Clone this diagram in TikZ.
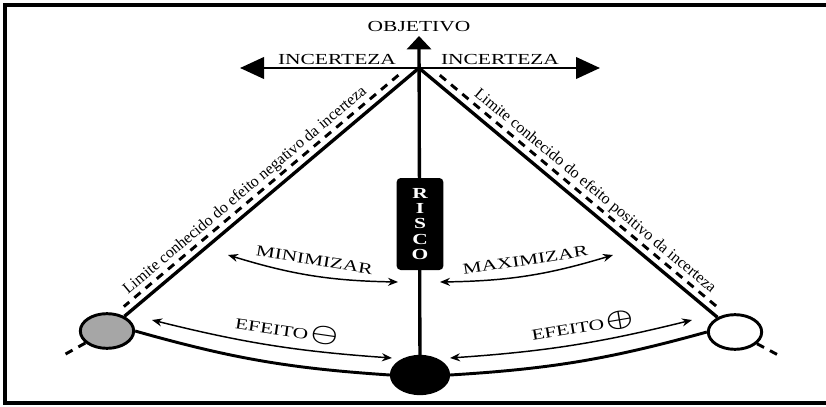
\documentclass[tikz,border=0pt]{standalone}
\usepackage{fontspec}
\setmainfont[FakeStretch=1.4]{Liberation Serif}
\newfontfamily\limitfont{Liberation Serif}
\usepackage{graphicx}
\usetikzlibrary{
    arrows.meta,
    positioning,
    calc,
    shapes.geometric
}

\begin{document}
\begin{tikzpicture}[
        x=0.75pt, y=-0.75pt,
        every node/.style={font=\fontsize{11.5pt}{13pt}\selectfont},
        axis/.style={
            line width=2.5pt,
            draw=black
        },
        outcome/.style={
            ellipse,
            draw=black,
            line width=2.2pt,
            minimum width=40pt,
            minimum height=26pt,
            inner sep=0pt
        },
        limit/.style={
            line width=2.2pt,
            dash pattern=on 6pt off 5pt
        },
        effect/.style={
            {Stealth[length=7.5pt,width=6pt]}-{Stealth[length=7.5pt,width=6pt]},
            line width=1.1pt
        },
        riskstack/.style={
            rectangle,
            rounded corners=3pt,
            fill=black,
            text=white,
            minimum width=35pt,
            minimum height=69pt,
            align=center,
            font=\bfseries\fontsize{11.5pt}{11.6pt}\selectfont
        },
        limitlabel/.style={
            font=\limitfont\fontsize{12pt}{14pt}\selectfont,
            sloped,
            inner sep=1pt
        }
    ]

    \useasboundingbox (0,0) rectangle (826,407);
    \draw[line width=2.4pt] (834,5) -| (5,403) -- (834,403);

    \coordinate (apex) at (419,68);
    \coordinate (goal) at (419,36);
    \coordinate (uncleft) at (240,68);
    \coordinate (uncright) at (600,68);
    \coordinate (negtail) at (62,356);
    \coordinate (postail) at (780,356);

    \node[outcome, fill=gray!70] (neg) at (107,331) {};
    \node[outcome, fill=white] (pos) at (735,332) {};
    \node[outcome, fill=black, minimum width=43pt, minimum height=28pt] (risk) at (420,375) {};

    \draw[axis, -{Triangle[length=10pt,width=18pt]}] (risk) -- (goal);
    \node[above=0pt of goal] (goallabel) {OBJETIVO};

    \draw[line width=2.2pt, {Triangle[length=18pt,width=16pt]}-{Triangle[length=18pt,width=16pt]}]
        (uncleft) -- (uncright);
    \node[anchor=south, inner sep=1pt] (uncleftlabel) at (337,66) {INCERTEZA};
    \node[anchor=south, inner sep=1pt] (uncrightlabel) at (500,66) {INCERTEZA};

    \draw[axis] (apex) -- (neg);
    \draw[axis] (apex) -- (pos);
    \draw[limit] (neg) -- (negtail);
    \draw[limit] (pos) -- (postail);

    \draw[limit] ($(apex)!0.05!(neg) + (-5,-6)$) -- ($(apex)!0.93!(neg) + (-5,-6)$);
    \draw[limit] ($(apex)!0.05!(pos) + (5,-6)$) -- ($(apex)!0.93!(pos) + (5,-6)$);

    \path (neg) -- (apex) node[limitlabel, pos=0.45, above=7pt]
        {Limite conhecido do efeito negativo da incerteza};
    \path (apex) -- (pos) node[limitlabel, pos=0.55, above=7pt]
        {Limite conhecido do efeito positivo da incerteza};

    \draw[axis, line width=2.2pt] (neg.east) to[bend right=6] (risk.west);
    \draw[axis, line width=2.2pt] (risk.east) to[bend right=6] (pos.west);

    \node[riskstack] (risco) at (420,224) {R\\I\\S\\C\\O};

    \coordinate (minleft) at (228,255);
    \coordinate (minright) at (398,282);
    \coordinate (maxleft) at (440,282);
    \coordinate (maxright) at (613,255);
    \draw[effect] (minleft) to[bend right=8]
        node[midway, sloped, above=4pt] {MINIMIZAR} (minright);
    \draw[effect] (maxleft) to[bend right=8]
        node[midway, sloped, above=4pt] {MAXIMIZAR} (maxright);

    \coordinate (negleft) at (152,320);
    \coordinate (negright) at (392,358);
    \coordinate (posleft) at (450,358);
    \coordinate (posright) at (692,320);
    \draw[effect] (negleft) to[bend right=5]
        node[pos=0.56, sloped, above=2pt] {EFEITO\,\scalebox{1.9}[1.5]{\boldmath$\ominus$}} (negright);
    \draw[effect] (posleft) to[bend right=5]
        node[pos=0.56, sloped, above=2pt] {EFEITO\,\scalebox{1.9}[1.5]{\boldmath$\oplus$}} (posright);

\end{tikzpicture}
\end{document}
